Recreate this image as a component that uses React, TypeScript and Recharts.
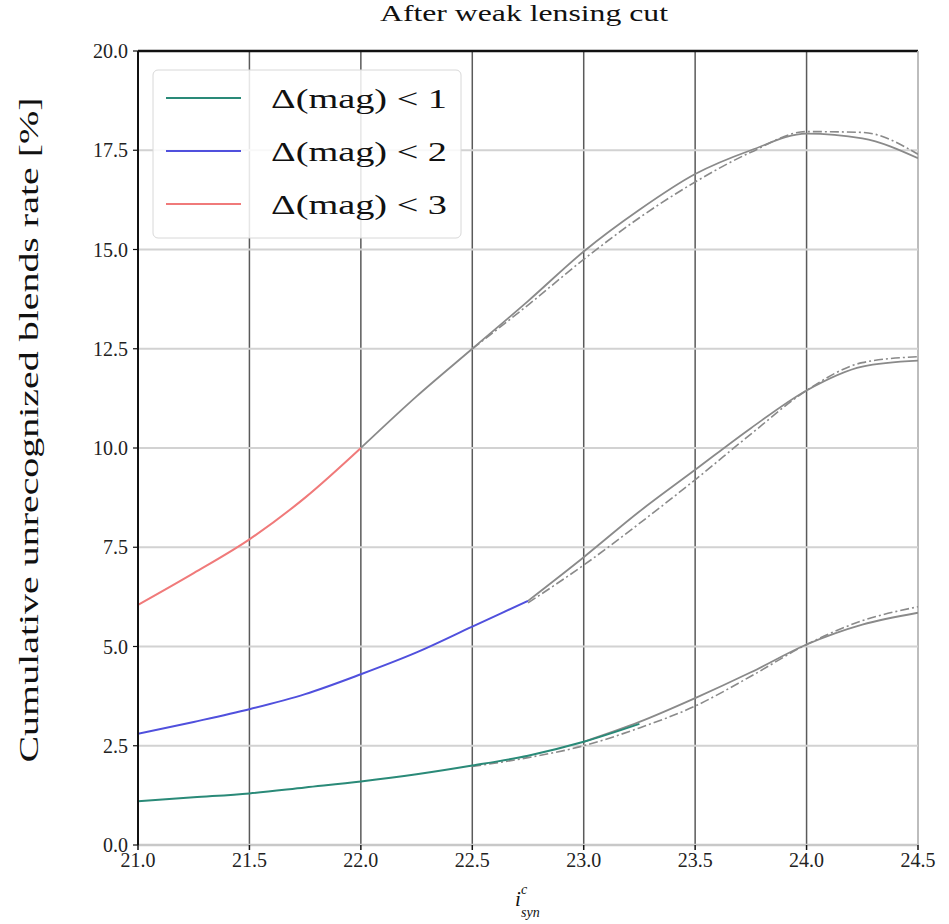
import React from "react";
import {
  LineChart,
  Line,
  XAxis,
  YAxis,
  CartesianGrid,
  ReferenceLine,
  Customized,
} from "recharts";

// ---- data ----
const X_TICKS = [21.0, 21.5, 22.0, 22.5, 23.0, 23.5, 24.0, 24.5];
const Y_TICKS = [0, 2.5, 5, 7.5, 10, 12.5, 15, 17.5, 20];

// Δ(mag) < 1 (teal part, then gray continuation)
const mag1ColX = [21.0, 21.25, 21.5, 21.75, 22.0, 22.25, 22.5, 22.75, 23.0, 23.25];
const mag1ColY = [1.1, 1.2, 1.3, 1.45, 1.6, 1.78, 2.0, 2.25, 2.6, 3.05];
const mag1SolidX = [23.0, 23.25, 23.5, 23.75, 24.0, 24.25, 24.5];
const mag1SolidY = [2.6, 3.1, 3.7, 4.35, 5.05, 5.55, 5.85];
const mag1DashX = [22.5, 22.75, 23.0, 23.25, 23.5, 23.75, 24.0, 24.25, 24.5];
const mag1DashY = [1.98, 2.2, 2.5, 2.95, 3.5, 4.25, 5.05, 5.65, 6.0];

// Δ(mag) < 2
const mag2ColX = [21.0, 21.25, 21.5, 21.75, 22.0, 22.25, 22.5, 22.75];
const mag2ColY = [2.8, 3.1, 3.42, 3.8, 4.3, 4.85, 5.5, 6.15];
const mag2SolidX = [22.75, 23.0, 23.25, 23.5, 23.75, 24.0, 24.25, 24.5];
const mag2SolidY = [6.15, 7.25, 8.4, 9.45, 10.5, 11.45, 12.05, 12.2];
const mag2DashX = [22.75, 23.0, 23.25, 23.5, 23.75, 24.0, 24.25, 24.5];
const mag2DashY = [6.1, 7.05, 8.1, 9.2, 10.35, 11.45, 12.15, 12.3];

// Δ(mag) < 3
const mag3ColX = [21.0, 21.25, 21.5, 21.75, 22.0];
const mag3ColY = [6.05, 6.85, 7.7, 8.75, 10.0];
const mag3SolidX = [22.0, 22.25, 22.5, 22.75, 23.0, 23.25, 23.5, 23.75, 24.0, 24.25, 24.5];
const mag3SolidY = [10.0, 11.3, 12.5, 13.7, 14.95, 16.0, 16.9, 17.5, 17.92, 17.8, 17.3];
const mag3DashX = [22.5, 22.75, 23.0, 23.25, 23.5, 23.75, 24.0, 24.25, 24.5];
const mag3DashY = [12.5, 13.6, 14.75, 15.8, 16.7, 17.45, 17.97, 17.95, 17.4];

const SERIES_NAMES = ["Δ(mag) < 1", "Δ(mag) < 2", "Δ(mag) < 3"];
const SERIES_COLORS = ["#2a8a78", "#5050dd", "#f07a7a"];

const TITLE = "After weak lensing cut";
const Y_LABEL = "Cumulative unrecognized blends rate [%]";

const zip = (xs: number[], ys: number[]) => xs.map((x, i) => ({ x, y: ys[i] }));

const FONT = "'Liberation Serif', 'DejaVu Serif', serif";
const GRAY = "#8a8a8a";
const DASH = "9 3 2 3";

const Overlay = () => (
  <g>
    <text
      x={524}
      y={21}
      textAnchor="middle"
      fontFamily={FONT}
      fontSize={24}
      fill="#111"
      textLength={288}
      lengthAdjust="spacingAndGlyphs"
    >
      {TITLE}
    </text>
    <text
      x={28}
      y={430}
      transform="rotate(-90, 28, 430)"
      textAnchor="middle"
      dominantBaseline="central"
      fontFamily={FONT}
      fontSize={28}
      fill="#111"
      textLength={665}
      lengthAdjust="spacingAndGlyphs"
    >
      {Y_LABEL}
    </text>
    <text x={515} y={906} fontFamily={FONT} fontStyle="italic" fontSize={21} fill="#111">
      i
    </text>
    <text x={521} y={894} fontFamily={FONT} fontStyle="italic" fontSize={14} fill="#111">
      c
    </text>
    <text x={521} y={917} fontFamily={FONT} fontStyle="italic" fontSize={14} fill="#111">
      syn
    </text>
    {/* legend */}
    <rect
      x={153}
      y={70}
      width={308}
      height={168}
      rx={5}
      fill="#fff"
      fillOpacity={0.85}
      stroke="#d8d8d8"
      strokeWidth={1}
    />
    {SERIES_NAMES.map((n, i) => (
      <g key={n}>
        <line
          x1={166}
          x2={241}
          y1={98 + i * 53}
          y2={98 + i * 53}
          stroke={SERIES_COLORS[i]}
          strokeWidth={2}
        />
        <text
          x={271}
          y={98 + i * 53}
          dominantBaseline="central"
          fontFamily={FONT}
          fontSize={28}
          fill="#111"
          textLength={176}
          lengthAdjust="spacingAndGlyphs"
        >
          {n}
        </text>
      </g>
    ))}
  </g>
);

export default function App() {
  return (
    <div style={{ position: "absolute", left: 0, top: 0, background: "#fff" }}>
      <LineChart
        width={949}
        height={924}
        margin={{ top: 51, right: 31, left: 0, bottom: 49 }}
      >
        <CartesianGrid horizontal={false} stroke="#5a5a5a" strokeWidth={1.5} />
        <CartesianGrid vertical={false} stroke="#d2d2d2" strokeWidth={2} />
        <XAxis
          type="number"
          dataKey="x"
          domain={[21, 24.5]}
          ticks={X_TICKS}
          allowDataOverflow
          height={30}
          tickFormatter={(v: number) => v.toFixed(1)}
          tick={{ fontFamily: FONT, fontSize: 20, fill: "#222" }}
          tickLine={{ stroke: "#111", strokeWidth: 1.5 }}
          tickSize={5}
          tickMargin={3}
          axisLine={{ stroke: "#c8c8c8", strokeWidth: 2.5 }}
        />
        <YAxis
          type="number"
          dataKey="y"
          domain={[0, 20]}
          ticks={Y_TICKS}
          allowDataOverflow
          width={138}
          tickFormatter={(v: number) => v.toFixed(1)}
          tick={{ fontFamily: FONT, fontSize: 20, fill: "#222" }}
          tickLine={{ stroke: "#111", strokeWidth: 1.2 }}
          tickSize={5}
          tickMargin={5}
          axisLine={{ stroke: "#111", strokeWidth: 2 }}
        />
        <ReferenceLine y={20} stroke="#111" strokeWidth={2.5} />
        <ReferenceLine x={24.5} stroke="#d0d0d0" strokeWidth={1.5} />

        <Line data={zip(mag1DashX, mag1DashY)} dataKey="y" type="monotone" stroke={GRAY} strokeWidth={1.6} strokeDasharray={DASH} dot={false} isAnimationActive={false} legendType="none" />
        <Line data={zip(mag2DashX, mag2DashY)} dataKey="y" type="monotone" stroke={GRAY} strokeWidth={1.6} strokeDasharray={DASH} dot={false} isAnimationActive={false} legendType="none" />
        <Line data={zip(mag3DashX, mag3DashY)} dataKey="y" type="monotone" stroke={GRAY} strokeWidth={1.6} strokeDasharray={DASH} dot={false} isAnimationActive={false} legendType="none" />
        <Line data={zip(mag1SolidX, mag1SolidY)} dataKey="y" type="monotone" stroke={GRAY} strokeWidth={1.8} dot={false} isAnimationActive={false} legendType="none" />
        <Line data={zip(mag2SolidX, mag2SolidY)} dataKey="y" type="monotone" stroke={GRAY} strokeWidth={1.8} dot={false} isAnimationActive={false} legendType="none" />
        <Line data={zip(mag3SolidX, mag3SolidY)} dataKey="y" type="monotone" stroke={GRAY} strokeWidth={1.8} dot={false} isAnimationActive={false} legendType="none" />

        <Line name={SERIES_NAMES[0]} data={zip(mag1ColX, mag1ColY)} dataKey="y" type="monotone" stroke={SERIES_COLORS[0]} strokeWidth={2} dot={false} isAnimationActive={false} />
        <Line name={SERIES_NAMES[1]} data={zip(mag2ColX, mag2ColY)} dataKey="y" type="monotone" stroke={SERIES_COLORS[1]} strokeWidth={2} dot={false} isAnimationActive={false} />
        <Line name={SERIES_NAMES[2]} data={zip(mag3ColX, mag3ColY)} dataKey="y" type="monotone" stroke={SERIES_COLORS[2]} strokeWidth={2} dot={false} isAnimationActive={false} />

        <Customized component={Overlay} />
      </LineChart>
    </div>
  );
}
